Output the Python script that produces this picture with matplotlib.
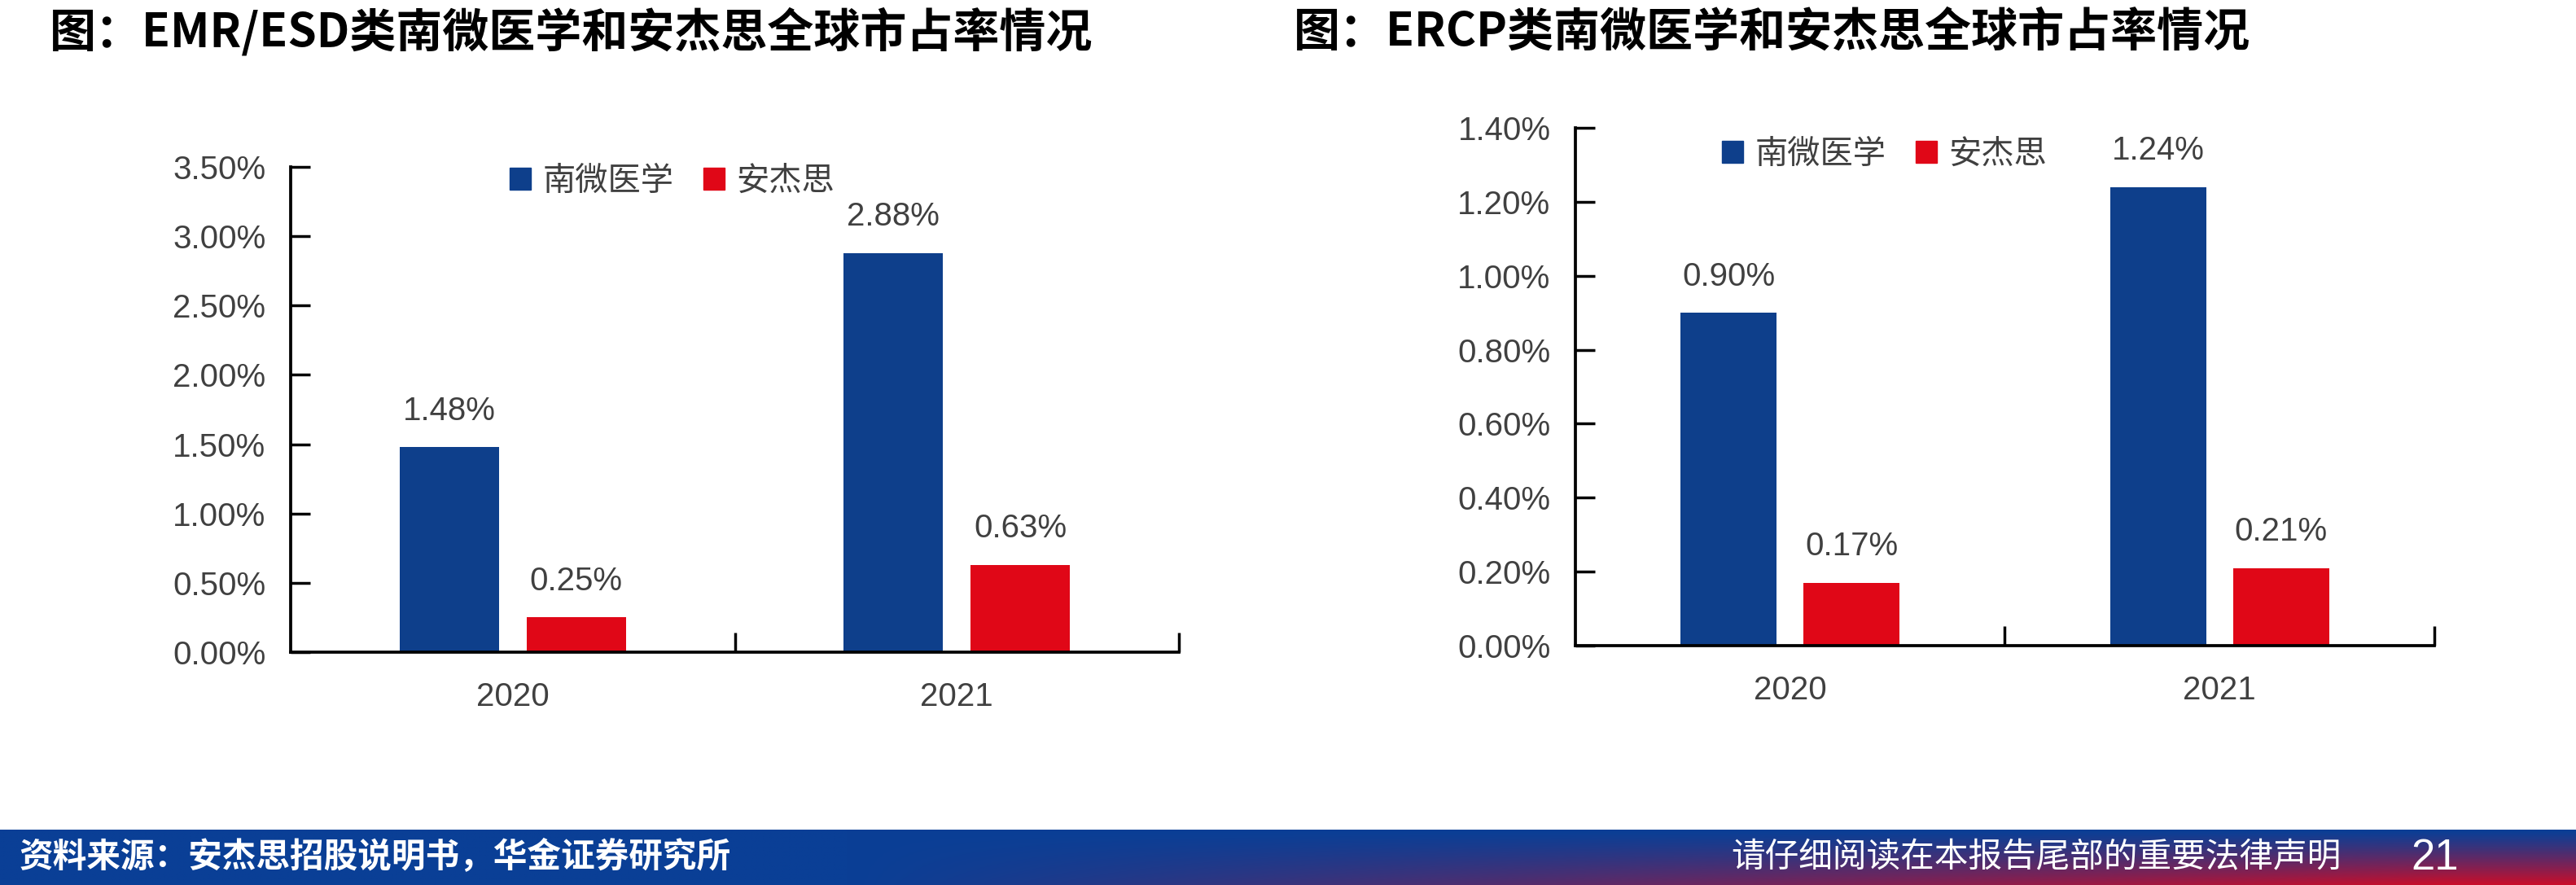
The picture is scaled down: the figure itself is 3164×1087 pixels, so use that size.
import numpy as np
import matplotlib
matplotlib.use('Agg')
import matplotlib.pyplot as plt
from matplotlib.patches import Patch
from matplotlib.ticker import FuncFormatter, FixedLocator

plt.rcParams['font.family'] = ['Liberation Sans', 'Noto Sans CJK SC']

# data
years = ['2020', '2021']
series_names = ['南微医学', '安杰思']
emr_nanwei = [1.48, 2.88]
emr_anjiesi = [0.25, 0.63]
ercp_nanwei = [0.90, 1.24]
ercp_anjiesi = [0.17, 0.21]

title_left = '图：EMR/ESD类南微医学和安杰思全球市占率情况'
title_right = '图：ERCP类南微医学和安杰思全球市占率情况'
source_text = '资料来源：安杰思招股说明书，华金证券研究所'
notice_text = '请仔细阅读在本报告尾部的重要法律声明'
page_no = '21'

blue = '#0e3f8b'
red = '#e00717'
txt = '#404040'
W, H = 3164, 1087

fig = plt.figure(figsize=(W / 100, H / 100), dpi=100)


def draw(ax, a, b, ymax, ystep, leg_xy):
    x = np.arange(len(years))
    ax.bar(x - 0.143, a, width=0.224, color=blue, label=series_names[0])
    ax.bar(x + 0.143, b, width=0.224, color=red, label=series_names[1])
    for xi, v in zip(x, a):
        ax.annotate(f'{v:.2f}%', (xi - 0.143, v), xytext=(0, 24), textcoords='offset points',
                    ha='center', va='baseline', fontsize=29, color=txt)
    for xi, v in zip(x, b):
        ax.annotate(f'{v:.2f}%', (xi + 0.143, v), xytext=(0, 24), textcoords='offset points',
                    ha='center', va='baseline', fontsize=29, color=txt)
    ax.set_xlim(-0.5, len(years) - 0.5)
    ax.set_ylim(0, ymax)
    ax.set_yticks(np.arange(0, ymax + ystep / 2, ystep))
    ax.yaxis.set_major_formatter(FuncFormatter(lambda v, p: f'{v:.2f}%'))
    ax.set_xticks(x)
    ax.set_xticklabels(years)
    ax.xaxis.set_minor_locator(FixedLocator([0.5, 1.5]))
    ax.tick_params(axis='x', which='major', length=0, pad=26, labelsize=29, labelcolor=txt)
    ax.tick_params(axis='x', which='minor', direction='in', length=17, width=2.5)
    ax.tick_params(axis='y', direction='in', length=17, width=2.5, pad=22, labelsize=29, labelcolor=txt)
    for s in ['top', 'right']:
        ax.spines[s].set_visible(False)
    for s in ['left', 'bottom']:
        ax.spines[s].set_linewidth(2.7)
    handles = [Patch(color=blue), Patch(color=red)]
    ax.legend(handles, series_names, loc='center left', bbox_to_anchor=leg_xy,
              bbox_transform=fig.transFigure, ncol=2, frameon=False, fontsize=29,
              handlelength=0.65, handleheight=0.65, handletextpad=0.37,
              columnspacing=0.88, borderpad=0, borderaxespad=0, labelcolor=txt)


ax1 = fig.add_axes([357 / W, 1 - 801 / H, 1091 / W, 596 / H])
draw(ax1, emr_nanwei, emr_anjiesi, 3.5, 0.5, (626 / W, 1 - 223 / H))

ax2 = fig.add_axes([1935 / W, 1 - 793 / H, 1055 / W, 636 / H])
draw(ax2, ercp_nanwei, ercp_anjiesi, 1.4, 0.2, (2115 / W, 1 - 190 / H))

fig.text(61 / W, 1 - 40 / H, title_left, fontsize=41, fontweight='bold',
         family=['Noto Sans CJK SC'], va='center', ha='left')
fig.text(1589 / W, 1 - 40 / H, title_right, fontsize=41, fontweight='bold',
         family=['Noto Sans CJK SC'], va='center', ha='left')

# footer band with blue -> red gradient in the lower right
fax = fig.add_axes([0, 0, 1, 68 / H])
nx, ny = 400, 40
xx, yy = np.meshgrid(np.linspace(0, 1, nx), np.linspace(0, 1, ny))
w = np.clip((xx - 0.33) / 0.62, 0, 1) ** 1.1 * (yy ** 1.2)
c1 = np.array([0x0a, 0x3f, 0x96]) / 255
c2 = np.array([0xc8, 0x0e, 0x2a]) / 255
img = c1[None, None, :] * (1 - w[..., None]) + c2[None, None, :] * w[..., None]
fax.imshow(img, aspect='auto', extent=[0, 1, 0, 1], origin='upper')
fax.set_xlim(0, 1)
fax.set_ylim(0, 1)
fax.axis('off')

fig.text(24 / W, 1 - 1052 / H, source_text, fontsize=30, fontweight='bold', color='white',
         family=['Noto Sans CJK SC'], va='center', ha='left')
fig.text(2126 / W, 1 - 1054 / H, notice_text, fontsize=30, color='white',
         family=['Noto Sans CJK SC'], va='center', ha='left')
fig.text(2961 / W, 1 - 1054 / H, page_no, fontsize=38, color='white',
         va='center', ha='left')

fig.savefig('out.png', dpi=100)
